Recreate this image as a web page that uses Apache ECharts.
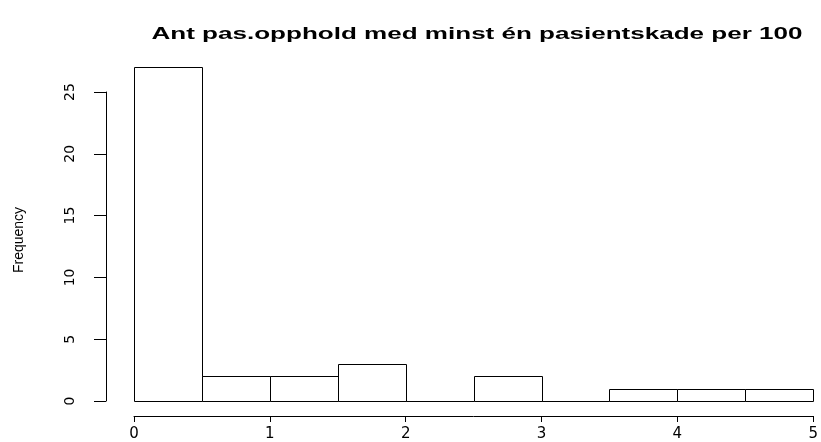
<!DOCTYPE html>
<html>
<head>
<meta charset="utf-8">
<script src="https://cdn.jsdelivr.net/npm/echarts@6/dist/echarts.min.js"></script>
<style>html,body{margin:0;padding:0;background:#fff}#c{width:821px;height:442px}</style>
</head>
<body>
<div id="c"></div>
<script>
var titleText = "Ant pas.opphold med minst \u00e9n pasientskade per 100";
var yName = "Frequency";
var binStarts = [0, 0.5, 1, 1.5, 2, 2.5, 3, 3.5, 4, 4.5];
var binEnds   = [0.5, 1, 1.5, 2, 2.5, 3, 3.5, 4, 4.5, 5];
var counts    = [27, 2, 2, 3, 0, 2, 0, 1, 1, 1];
var xTicks = [0, 1, 2, 3, 4, 5];
var yTicks = [0, 5, 10, 15, 20, 25];

var titleFont = 'bold 16px "Liberation Sans"';
var cv = document.createElement('canvas').getContext('2d');
cv.font = titleFont;
var titleScaleX = 651 / cv.measureText(titleText).width;

var data = binStarts.map(function (s, i) { return [s, binEnds[i], counts[i]]; });
var chart = echarts.init(document.getElementById('c'), null, {renderer: 'canvas'});
chart.setOption({
  animation: false,
  backgroundColor: '#fff',
  grid: {left: 134, right: 5, top: 92, bottom: 40},
  xAxis: {
    type: 'value', min: 0, max: 5, interval: 1, offset: 15,
    splitLine: {show: false},
    axisLine: {show: true, onZero: false, lineStyle: {color: '#000', width: 1}},
    axisTick: {show: true, length: 6, lineStyle: {color: '#000'}},
    axisLabel: {color: '#000', fontFamily: 'DejaVu Sans', fontSize: 15, margin: 11,
      formatter: function (v) { return xTicks.indexOf(v) >= 0 ? String(v) : ''; }}
  },
  yAxis: {
    type: 'value', min: 0, max: 25, interval: 5, offset: 28,
    splitLine: {show: false},
    axisLine: {show: true, onZero: false, lineStyle: {color: '#000', width: 1}},
    axisTick: {show: true, length: 12, lineStyle: {color: '#000'}},
    axisLabel: {color: '#000', fontFamily: 'DejaVu Sans', fontSize: 14, margin: 36, rotate: 90,
      verticalAlign: 'middle', align: 'center',
      formatter: function (v) { return yTicks.indexOf(v) >= 0 ? String(v) : ''; }}
  },
  graphic: [{
    type: 'text', x: 477, y: 35, scaleX: titleScaleX,
    style: {text: titleText, fill: '#000', font: titleFont, align: 'center', verticalAlign: 'middle'}
  }, {
    type: 'text', x: 19, y: 240, rotation: Math.PI / 2,
    style: {text: yName, fill: '#000', font: '14px "Liberation Sans"', align: 'center', verticalAlign: 'middle'}
  }],
  series: [{
    type: 'custom',
    clip: false,
    data: data,
    renderItem: function (params, api) {
      var p0 = api.coord([api.value(0), 0]);
      var p1 = api.coord([api.value(1), api.value(2)]);
      return {
        type: 'rect',
        shape: {x: Math.round(p0[0]) + 0.5, y: Math.round(p1[1]) + 0.5,
                width: Math.round(p1[0]) - Math.round(p0[0]), height: Math.round(p0[1]) - Math.round(p1[1])},
        style: {fill: '#fff', stroke: '#000', lineWidth: 1}
      };
    }
  }]
});
</script>
</body>
</html>
